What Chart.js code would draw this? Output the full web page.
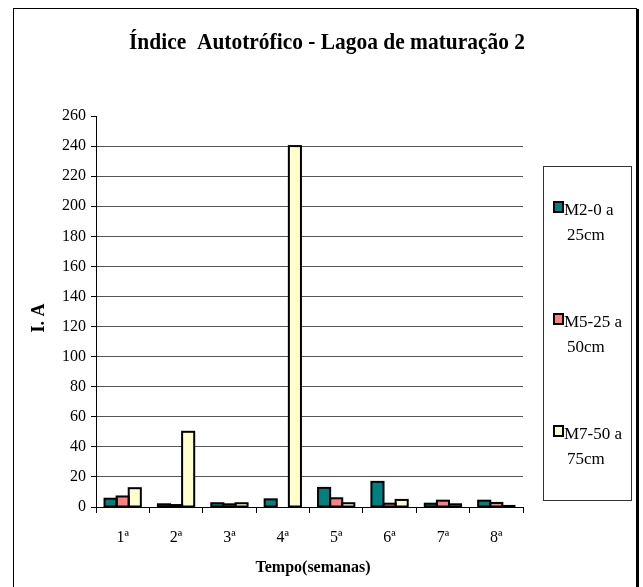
<!DOCTYPE html>
<html>
<head>
<meta charset="utf-8">
<script src="https://cdn.jsdelivr.net/npm/chart.js@4/dist/chart.umd.min.js"></script>
<style>
  html, body { margin: 0; padding: 0; background: #fff; }
  #wrap { width: 643px; height: 587px; position: relative; }
</style>
</head>
<body>
<div id="wrap"><canvas id="c" width="643" height="587"></canvas></div>
<script>
// Weeks of sampling
const weeks = ['1ª', '2ª', '3ª', '4ª', '5ª', '6ª', '7ª', '8ª'];

// Autotrophic index per depth
const m2Values = [5.5, 1.8, 2.5, 5.1, 12.7, 16.7, 2.2, 4.2];
const m5Values = [7, 1.3, 1.8, 0, 5.8, 2.2, 4.2, 2.7];
const m7Values = [12.5, 50, 2.5, 240, 2.5, 4.7, 1.8, 0.7];

// Legend text, split over two lines
const seriesLabels = [['M2-0 a', '25cm'], ['M5-25 a', '50cm'], ['M7-50 a', '75cm']];
const seriesColors = ['#008080', '#FF8080', '#FFFFCC'];

// Y axis ticks
const yMax = 260;
const yStep = 20;

const titleText = 'Índice  Autotrófico - Lagoa de maturação 2';
const xTitle = 'Tempo(semanas)';
const yTitle = 'I. A';

const SERIF = '"Liberation Serif", "Times New Roman", serif';

function drawFitted(ctx, text, x, y, targetWidth) {
  const w = ctx.measureText(text).width;
  const sx = Math.min(1, targetWidth / w);
  ctx.save();
  ctx.translate(x, y);
  ctx.scale(sx, 1);
  ctx.fillText(text, 0, 0);
  ctx.restore();
}

// Outline every non-zero bar with a 2px stroke centred on its edges
const barOutline = {
  id: 'barOutline',
  afterDatasetsDraw(chart) {
    const ctx = chart.ctx;
    ctx.save();
    ctx.strokeStyle = '#000';
    ctx.lineWidth = 2;
    chart.data.datasets.forEach((ds, di) => {
      const meta = chart.getDatasetMeta(di);
      meta.data.forEach((bar, i) => {
        if (!ds.data[i]) return;
        const p = bar.getProps(['x', 'y', 'base', 'width'], true);
        const left = p.x - p.width / 2;
        ctx.strokeRect(left, p.y, p.width, p.base - p.y);
      });
    });
    ctx.restore();
  }
};

const decor = {
  id: 'decor',
  afterDraw(chart) {
    const ctx = chart.ctx;
    ctx.save();
    // outer frame with shadowed right edge
    ctx.strokeStyle = '#000';
    ctx.lineWidth = 1;
    ctx.strokeRect(13.5, 8.5, 623, 620);
    ctx.fillStyle = '#000';
    ctx.fillRect(636, 9, 3, 578);

    // title
    ctx.fillStyle = '#000';
    ctx.textAlign = 'center';
    ctx.textBaseline = 'alphabetic';
    ctx.font = 'bold 24px ' + SERIF;
    drawFitted(ctx, titleText, 327, 49, 396);

    // x axis title
    ctx.font = 'bold 16px ' + SERIF;
    drawFitted(ctx, xTitle, 313, 572, 116);

    // y axis title
    ctx.save();
    ctx.translate(44, 318);
    ctx.rotate(-Math.PI / 2);
    ctx.font = 'bold 18px ' + SERIF;
    ctx.textAlign = 'center';
    ctx.fillText(yTitle, 0, 0);
    ctx.restore();

    // legend box
    ctx.strokeStyle = '#333';
    ctx.lineWidth = 1;
    ctx.strokeRect(543.5, 166.5, 88, 334);
    ctx.font = '17px ' + SERIF;
    ctx.textAlign = 'left';
    const tops = [202, 314, 426];
    seriesLabels.forEach((lines, i) => {
      const t = tops[i];
      ctx.fillStyle = seriesColors[i];
      ctx.fillRect(554, t, 9, 10);
      ctx.strokeStyle = '#000';
      ctx.lineWidth = 2;
      ctx.strokeRect(554, t, 9, 10);
      ctx.fillStyle = '#000';
      ctx.fillText(lines[0], 564, t + 13);
      ctx.fillText(lines[1], 567, t + 38);
    });
    ctx.restore();
  }
};

const datasets = [m2Values, m5Values, m7Values].map((vals, i) => ({
  label: seriesLabels[i].join(' '),
  data: vals,
  backgroundColor: seriesColors[i],
  borderWidth: 0,
  categoryPercentage: 0.68,
  barPercentage: 1.0
}));

new Chart(document.getElementById('c'), {
  type: 'bar',
  data: { labels: weeks, datasets },
  options: {
    responsive: false,
    devicePixelRatio: 1,
    animation: false,
    layout: { padding: { left: 20, right: 120, top: 116, bottom: 0 } },
    plugins: { legend: { display: false }, title: { display: false }, tooltip: { enabled: false } },
    scales: {
      x: {
        afterFit: s => { s.height = 80; },
        grid: { offset: true, drawOnChartArea: false, drawTicks: true, tickLength: 6, tickColor: '#000' },
        border: { color: '#000', width: 1 },
        ticks: { color: '#000', padding: 15, font: { family: SERIF, size: 16 } }
      },
      y: {
        min: 0,
        max: yMax,
        afterFit: s => { s.width = 76; },
        grid: {
          color: c => (c.tick && c.tick.value === yMax) ? 'rgba(0,0,0,0)' : '#555',
          tickColor: '#000',
          tickLength: 5,
          lineWidth: 1
        },
        border: { color: '#000', width: 1 },
        ticks: { stepSize: yStep, color: '#000', padding: 5, font: { family: SERIF, size: 16 } }
      }
    }
  },
  plugins: [barOutline, decor]
});
</script>
</body>
</html>
